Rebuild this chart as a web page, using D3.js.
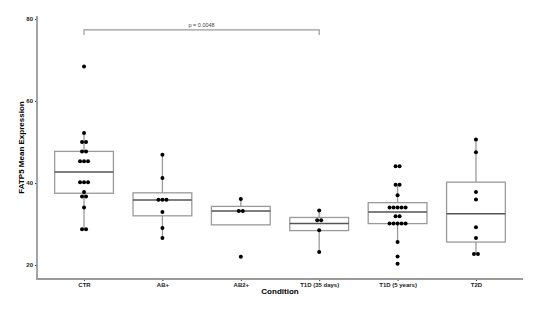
<!DOCTYPE html>
<html>
<head>
<meta charset="utf-8">
<script src="https://cdn.jsdelivr.net/npm/d3@7"></script>
<style>
  body { margin: 0; background: #fff; }
  text { font-family: "Liberation Sans", Arial, sans-serif; }
</style>
</head>
<body>
<div id="chart"></div>
<script>
const categories = ['CTR', 'AB+', 'AB2+', 'T1D (35 days)', 'T1D (5 years)', 'T2D'];

// dot values per group (repeats are stacked side by side)
const ctrValues = [68.4, 52.2, 50, 50, 47.7, 47.7, 45.3, 45.3, 45.3, 40.2, 40.2, 40.2, 37.8, 36.7, 36.7, 34.0, 28.7, 28.7];
const abValues = [46.9, 41.2, 35.9, 35.9, 35.9, 32.9, 29.0, 26.6];
const ab2Values = [36.1, 33.2, 33.2, 22.0];
const t1d35Values = [33.3, 30.9, 30.9, 28.5, 23.2];
const t1d5Values = [44.1, 44.1, 39.6, 39.6, 37.0, 34.0, 34.0, 34.0, 34.0, 34.0, 31.9, 31.9,
  30.1, 30.1, 30.1, 30.1, 30.1, 25.6, 22.1, 20.3];
const t2dValues = [50.6, 47.5, 37.8, 36.0, 29.2, 26.6, 22.7, 22.7];
const groupValues = [ctrValues, abValues, ab2Values, t1d35Values, t1d5Values, t2dValues];

// box statistics
const q1 = [37.5, 32.0, 29.8, 28.4, 30.1, 25.6];
const medians = [42.7, 35.85, 33.2, 30.1, 32.9, 32.5];
const q3 = [47.7, 37.6, 34.3, 31.6, 35.2, 40.2];
const whiskerLow = [28.7, 26.6, 29.8, 23.2, 25.6, 22.7];
const whiskerHigh = [52.2, 46.9, 36.1, 33.3, 39.6, 50.6];

const yTicks = [20, 40, 60, 80];
const comparison = {from: 'CTR', to: 'T1D (35 days)', value: 77.3, label: 'p = 0.0048'};

const width = 546, height = 312;
const plot = {left: 37, right: 523, top: 16, bottom: 279};

const svg = d3.select('#chart').append('svg')
    .attr('width', width)
    .attr('height', height);

const x = d3.scalePoint()
    .domain(categories)
    .range([plot.left, plot.right])
    .padding(0.6);

const y = d3.scaleLinear()
    .domain([16.6, 80.7])
    .range([plot.bottom, plot.top]);

const boxW = x.step() * 0.75;
const grey = '#9a9a9a';

const boxes = categories.map((c, i) => ({
  cat: c, q1: q1[i], med: medians[i], q3: q3[i], lo: whiskerLow[i], hi: whiskerHigh[i]
}));

const g = svg.append('g');

// whiskers
g.selectAll('line.whisker-hi')
    .data(boxes)
    .join('line')
    .attr('x1', d => x(d.cat)).attr('x2', d => x(d.cat))
    .attr('y1', d => y(d.q3)).attr('y2', d => y(d.hi))
    .attr('stroke', grey).attr('stroke-width', 1.3);

g.selectAll('line.whisker-lo')
    .data(boxes)
    .join('line')
    .attr('x1', d => x(d.cat)).attr('x2', d => x(d.cat))
    .attr('y1', d => y(d.q1)).attr('y2', d => y(d.lo))
    .attr('stroke', grey).attr('stroke-width', 1.3);

// boxes
g.selectAll('rect.box')
    .data(boxes)
    .join('rect')
    .attr('x', d => x(d.cat) - boxW / 2)
    .attr('width', boxW)
    .attr('y', d => y(d.q3))
    .attr('height', d => y(d.q1) - y(d.q3))
    .attr('fill', '#fff')
    .attr('stroke', grey)
    .attr('stroke-width', 1.3);

g.selectAll('line.median')
    .data(boxes)
    .join('line')
    .attr('x1', d => x(d.cat) - boxW / 2).attr('x2', d => x(d.cat) + boxW / 2)
    .attr('y1', d => y(d.med)).attr('y2', d => y(d.med))
    .attr('stroke', '#555').attr('stroke-width', 1.5);

// dots, centre-stacked where values repeat
const dotR = 2;
const dots = [];
groupValues.forEach((vals, i) => {
  const counts = d3.rollup(vals, v => v.length, v => v);
  const seen = new Map();
  vals.forEach(v => {
    const n = counts.get(v);
    const k = seen.get(v) || 0;
    seen.set(v, k + 1);
    dots.push({cat: categories[i], value: v, off: (k - (n - 1) / 2) * dotR * 2});
  });
});

g.selectAll('circle.dot')
    .data(dots)
    .join('circle')
    .attr('cx', d => x(d.cat) + d.off)
    .attr('cy', d => y(d.value))
    .attr('r', dotR)
    .attr('fill', '#000');

// axes
const yAxis = svg.append('g')
    .attr('transform', `translate(${plot.left},0)`)
    .call(d3.axisLeft(y).tickValues(yTicks).tickSize(2).tickPadding(2));
yAxis.select('.domain').remove();
yAxis.selectAll('line').attr('stroke', '#333');
yAxis.selectAll('text')
    .attr('font-size', 6).attr('font-weight', 'bold').attr('fill', '#222');

const xAxis = svg.append('g')
    .attr('transform', `translate(0,${plot.bottom})`)
    .call(d3.axisBottom(x).tickSize(2).tickPadding(2));
xAxis.select('.domain').remove();
xAxis.selectAll('line').attr('stroke', '#333');
xAxis.selectAll('text')
    .attr('font-size', 6).attr('font-weight', 'bold').attr('fill', '#222');

svg.append('line')
    .attr('x1', plot.left).attr('x2', plot.left)
    .attr('y1', plot.top).attr('y2', plot.bottom + 1)
    .attr('stroke', grey).attr('stroke-width', 1.8);
svg.append('line')
    .attr('x1', plot.left - 1).attr('x2', plot.right)
    .attr('y1', plot.bottom).attr('y2', plot.bottom)
    .attr('stroke', grey).attr('stroke-width', 1.8);

// axis titles
svg.append('text')
    .attr('x', (plot.left + plot.right) / 2)
    .attr('y', 294)
    .attr('text-anchor', 'middle')
    .attr('font-size', 8).attr('font-weight', 'bold')
    .text('Condition');

svg.append('text')
    .attr('transform', `translate(24,${(plot.top + plot.bottom) / 2}) rotate(-90)`)
    .attr('text-anchor', 'middle')
    .attr('font-size', 8).attr('font-weight', 'bold')
    .text('FATP5 Mean Expression');

// significance bracket
const bx1 = x(comparison.from), bx2 = x(comparison.to), by = y(comparison.value);
svg.append('path')
    .attr('d', `M${bx1},${by + 5}V${by}H${bx2}V${by + 5}`)
    .attr('fill', 'none')
    .attr('stroke', grey)
    .attr('stroke-width', 1.2);
svg.append('text')
    .attr('x', (bx1 + bx2) / 2)
    .attr('y', by - 3)
    .attr('text-anchor', 'middle')
    .attr('font-size', 5.5)
    .attr('fill', '#444')
    .text(comparison.label);
</script>
</body>
</html>
